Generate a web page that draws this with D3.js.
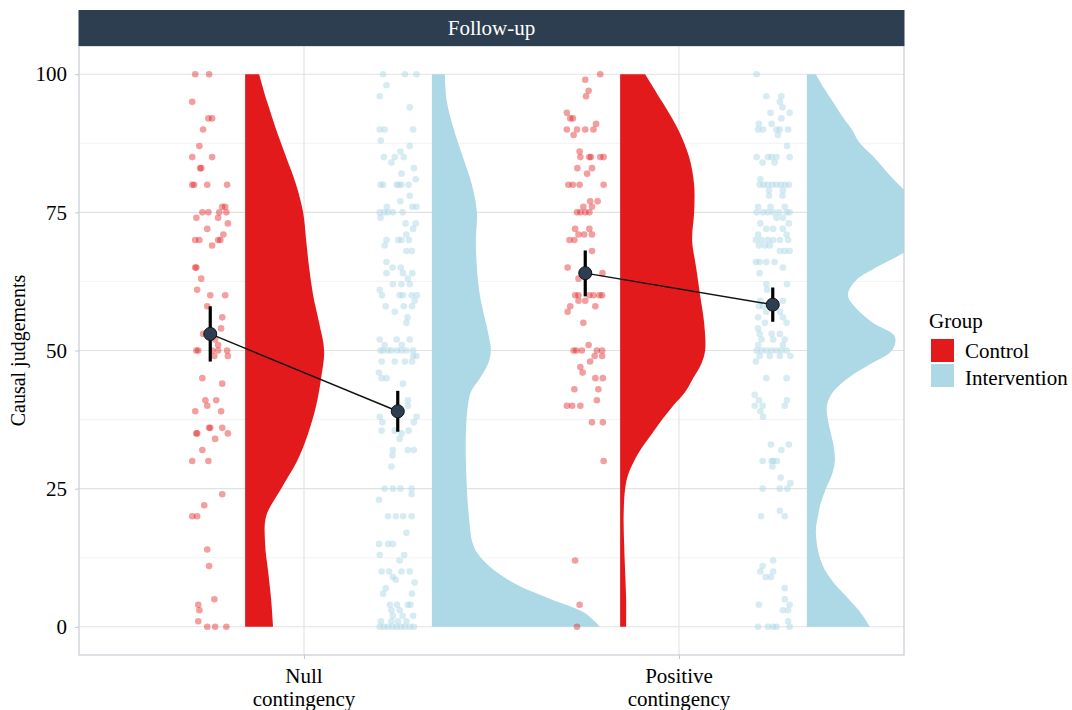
<!DOCTYPE html>
<html>
<head>
<meta charset="utf-8">
<script src="https://cdn.jsdelivr.net/npm/d3@7"></script>
<style>
  body { margin: 0; background: #fff; }
  text { font-family: "Liberation Serif", "Times New Roman", serif; }
</style>
</head>
<body>
<svg id="chart"></svg>
<script>
// ---- data ----
var categories = [["Null", "contingency"], ["Positive", "contingency"]];
var groups = ["Control", "Intervention"];
var yTicks = [0, 25, 50, 75, 100];
var yMinorTicks = [12.5, 37.5, 62.5, 87.5];

// raw judgements: [value, jitter offset (hundredths of a category)]
var nullControl = [[100,-4.0],[100,-0.3],[95,-4.8],[92,-0.5],[92,0.5],[90,-1.9],[87,-2.9],[85,-4.8],[85,0.5],[83,-2.7],[83,-2.4],[80,-4.8],[80,-4.3],[80,-0.8],[80,4.5],[76,3.2],[76,4.0],[75,-2.1],[75,-0.5],[75,2.4],[75,4.3],[74,-3.7],[74,2.1],[73,4.7],[72,-0.8],[71,3.5],[70,-4.0],[70,-2.9],[70,2.1],[70,2.7],[69,0.5],[65,-4.0],[65,-3.7],[63,-2.4],[61,-3.5],[60,0],[60,4.0],[58,-0.8],[56,3.2],[54,2.9],[53,-1.9],[52,1.3],[51,2.1],[50,-3.7],[50,-3.2],[50,0.5],[50,2.1],[50,4.5],[49,1.1],[49,4.7],[45,-2.1],[44,3.2],[41,-1.3],[41,1.6],[40,-0.8],[39,-4.0],[39,2.9],[36,-0.3],[36,0],[36,3.2],[35,-3.7],[35,-3.5],[35,4.7],[34,1.3],[32,-2.1],[30,-4.8],[30,-0.5],[24,3.2],[22,-1.6],[20,-4.8],[20,-3.5],[14,-0.8],[11,-0.3],[5,1.1],[4,-3.2],[3,-2.9],[1,-3.2],[0,-0.8],[0,1.3],[0,4.3]];

var nullIntervention = [[100,-3.9],[100,1.9],[100,5.0],[98,-3.0],[96,-4.8],[94,3.2],[90,-4.8],[90,-3.5],[90,4.1],[88,-4.5],[87,3.2],[86,0.7],[85,-3.7],[85,-0.8],[85,1.6],[84,-1.7],[83,4.3],[82,1.0],[81,4.8],[80,-4.6],[80,-3.9],[80,-0.3],[80,0.3],[80,1.0],[80,2.9],[78,3.2],[77,0.7],[76,3.9],[76,5.0],[76,-2.9],[75,-4.8],[75,-3.5],[75,-2.6],[75,-1.3],[75,1.3],[74,-4.6],[73,2.1],[73,4.8],[72,4.1],[71,2.3],[70,-3.0],[70,0.1],[70,1.0],[70,3.0],[69,-3.5],[68,2.3],[68,3.8],[66,-3.0],[65,-1.4],[65,0.8],[64,-3.0],[64,1.4],[64,3.9],[63,2.7],[62,-1.3],[62,1.0],[62,3.2],[61,-4.8],[60,-4.2],[60,0.5],[60,1.4],[60,3.7],[60,5.1],[59,4.5],[58,-3.2],[58,1.6],[58,3.8],[57,-0.8],[56,2.6],[55,2.3],[52,-4.8],[52,-0.3],[52,3.2],[51,-3.5],[51,1.1],[50,-4.6],[50,-3.9],[50,-2.6],[50,-1.7],[50,-0.2],[50,1.0],[50,2.3],[50,4.1],[49,4.1],[49,5.0],[48,-4.3],[48,-0.8],[48,1.9],[48,3.8],[46,-5.0],[45,-4.3],[45,-3.0],[44,1.4],[41,2.7],[40,2.7],[38,5.0],[37,4.3],[38,-4.8],[37,-4.1],[35.5,-4.3],[35.5,-0.8],[35.5,2.9],[35,1.0],[34,0.5],[32,2.7],[32,4.3],[32,-1.3],[31,-1.4],[29,-1.7],[25,-3.5],[25,-1.3],[25,0.7],[25,3.7],[24,3.7],[23,-5.0],[20,-2.6],[20,-0.5],[20,1.4],[20,3.7],[17,2.3],[15,-5.0],[15,-2.6],[15,-1.3],[13,-4.8],[13,1.7],[12,0.5],[10,-4.3],[10,-2.3],[10,1.0],[10,3.2],[9,-1.3],[8.5,-0.5],[8,4.5],[7,-3.2],[6,-3.9],[6,3.8],[4,-2.1],[4,-0.2],[4,2.7],[4,3.4],[3,-1.7],[3,0.5],[2,-1.3],[2,1.3],[2,4.1],[1,-4.5],[1,-1.7],[1,0.1],[1,2.3],[0,-4.8],[0,-3.7],[0,-2.6],[0,-1.4],[0,-0.3],[0,0.8],[0,1.9],[0,3.2],[0,4.3]];

var positiveControl = [[100,4.0],[99,0],[97,0.9],[96,0.2],[93,-4.9],[92,-4.0],[92,-3.3],[91,2.9],[90,-4.9],[90,-2.2],[90,0],[90,2.2],[89,-3.1],[86,-1.5],[85,-1.3],[85,1.1],[85,1.5],[85,4.0],[85,4.9],[83,-2.1],[83,1.8],[82,0.5],[80,-4.5],[80,-3.3],[80,-1.5],[80,4.9],[77,1.3],[77,3.3],[76,-0.5],[76,1.8],[75,-2.2],[75,-1.3],[75,0],[75,1.1],[72,-2.7],[72,1.1],[71,-1.8],[71,-0.3],[71,1.8],[70,-4.2],[70,-2.9],[68,1.8],[65,-4.7],[64,4.6],[63,-1.8],[60,-2.7],[60,-1.8],[60,1.1],[60,2.2],[60,3.8],[60,4.5],[59,-1.8],[59,0],[58,-4.0],[58,2.7],[57,-4.7],[55,-0.5],[51,0.9],[50,-3.1],[50,-2.4],[50,-0.9],[50,3.1],[50,4.5],[49,2.5],[49,4.5],[48,1.3],[47,-1.3],[46,-0.7],[45,2.7],[45,4.7],[43,-2.9],[43,3.5],[41,3.1],[40,-4.9],[40,-3.5],[40,-1.3],[37,1.8],[37,4.7],[30,4.9],[12,-2.7],[4,-1.5],[0,-2.2]];

var positiveIntervention = [[100,-4.3],[96,-1.7],[96,2.3],[95,1.9],[94,2.6],[93,-0.6],[93,4.5],[92,2.3],[91,-3.7],[91,-0.3],[90,-3.9],[90,-2.6],[90,1.0],[90,1.9],[90,4.1],[89,1.4],[87,3.8],[85,-4.3],[85,-1.3],[85,-0.3],[85,1.0],[85,4.5],[84,-2.7],[84,0.5],[81,-3.3],[80,-3.5],[80,-2.4],[80,-1.3],[80,-0.1],[80,1.0],[80,2.1],[80,3.2],[80,4.3],[79,-1.0],[79,2.7],[78,-1.0],[78,2.6],[76,-3.9],[76,-0.6],[76,3.2],[75,-4.3],[75,-2.6],[75,-1.3],[75,0.1],[75,1.7],[75,3.7],[75,4.5],[74,1.0],[74,2.7],[73,-3.3],[73,4.3],[72,-1.7],[72,0.1],[72,2.7],[71,-3.9],[71,3.7],[70,-4.5],[70,-3.0],[70,-1.3],[70,0.1],[70,1.9],[70,4.1],[69,-3.7],[69,-2.1],[69,-0.8],[68,1.9],[68,3.2],[68,4.5],[66,-4.5],[66,-3.5],[66,-1.7],[66,0.5],[65,2.7],[64,-3.5],[62,-1.7],[62,3.8],[61,-1.5],[59,-3.3],[59,2.7],[58,-3.7],[58,-2.6],[57,-1.7],[57,1.9],[56,2.7],[56,-3.9],[55,-2.1],[55,3.7],[54,-3.9],[53,-3.5],[53,-0.3],[53,1.9],[52,-3.0],[52,0.1],[52,3.2],[51,-3.9],[51,2.7],[50,-4.3],[50,-3.0],[50,-1.7],[50,-0.3],[50,1.0],[50,2.3],[50,3.7],[49,-3.5],[49,-0.8],[49,1.9],[49,4.7],[48,-4.5],[45,-1.7],[45,3.7],[42,-4.8],[41,-3.7],[41,3.8],[40,-4.8],[40,-2.7],[40,3.2],[39,-3.3],[38,-2.6],[33,-0.5],[33,4.3],[32,2.3],[30,-2.7],[30,-0.3],[30,0.1],[30,1.1],[29,-0.1],[27,2.1],[26,4.7],[25,-2.7],[25,1.9],[25,3.9],[21,1.9],[20,-3.1],[20,3.2],[12,0.1],[11,-2.7],[10,-3.3],[10,0.1],[9,-1.9],[9,-0.5],[7,3.2],[5,3.2],[4,-3.7],[4,4.5],[3,2.7],[3,4.1],[1,4.1],[0,-3.9],[0,-1.3],[0,0.1],[0,1.0],[0,4.5]];

// half-violin outlines: [value, relative density]
var nullControlDensity = [[0,28],[5,26],[10,23],[15,20],[20,21],[25,36],[30,52],[35,63],[40,71],[45,76],[50,79],[55,74],[60,68],[65,64],[70,61],[75,58],[80,51],[85,41],[90,31],[95,22],[100,14]];
var nullInterventionDensity = [[0,168],[2.5,153],[5,119],[7.5,86],[10,64],[12.5,49],[15,41],[20,37],[25,35],[30,34],[35,34],[40,36],[42.5,39],[45,48],[47.5,56],[50,59],[52.5,57],[55,54],[60,48],[65,45],[70,44],[75,45],[80,40],[85,31],[90,22],[95,15],[100,13]];
var positiveControlDensity = [[0,6],[5,6],[10,5],[15,4],[20,3.5],[25,5],[27.5,8],[30,14],[32.5,22],[35,32],[37.5,42],[40,53],[42.5,65],[45,73],[47.5,81],[50,85],[55,84],[60,80],[65,76],[70,72],[75,74],[80,74],[85,69],[90,58],[95,42],[100,25]];
var positiveInterventionDensity = [[0,63],[2.5,54],[5,42],[7.5,29],[10,19],[12.5,13],[15,10],[17.5,9],[20,11],[22.5,14],[25,19],[27.5,25],[30,28],[32.5,27],[35,24],[37.5,21],[40,20],[42.5,26],[45,41],[47.5,63],[50,85],[52.5,88],[55,66],[57.5,50],[60,41],[62.5,48],[65,69],[67.5,95],[70,115],[72.5,124],[75,120],[77.5,106],[80,92],[82.5,79],[85,67],[87.5,53],[90,45],[92.5,35],[95,26],[97.5,17],[100,9]];

// mean and 95% CI, per category: [control, intervention]
var meanValues = [[53.0, 39.0], [64.0, 58.3]];
var ciLower = [[48.0, 35.3], [59.8, 55.2]];
var ciUpper = [[58.0, 42.7], [68.1, 61.4]];

// ---- drawing ----
var width = 1072, height = 710;
var panel = {left: 79, right: 904, top: 46, bottom: 655};
var strip = {top: 10, bottom: 46};
var colors = {"Control": "#e31a1c", "Intervention": "#add8e6"};
var navy = "#2c3e50";

// group offsets inside a category (category units)
var pointOffset = {"Control": -0.25, "Intervention": 0.25};
var violinOffset = {"Control": -0.157, "Intervention": 0.341};

var svg = d3.select("#chart").attr("width", width).attr("height", height);

var xScale = d3.scaleLinear().domain([0.4, 2.6]).range([panel.left, panel.right]);
var yScale = d3.scaleLinear().domain([-5.1, 105.1]).range([panel.bottom, panel.top]);
var densityScale = d3.scaleLinear().domain([0, 100]).range([0, 100 / 375]);

svg.append("defs").append("clipPath").attr("id", "panel-clip")
  .append("rect")
  .attr("x", panel.left).attr("y", panel.top)
  .attr("width", panel.right - panel.left).attr("height", panel.bottom - panel.top);

// grid
var grid = svg.append("g");
grid.selectAll(".minor").data(yMinorTicks).enter().append("line")
  .attr("x1", panel.left).attr("x2", panel.right)
  .attr("y1", function(d){ return yScale(d); }).attr("y2", function(d){ return yScale(d); })
  .attr("stroke", "#f0f0f0").attr("stroke-width", 0.8);
grid.selectAll(".major").data(yTicks).enter().append("line")
  .attr("x1", panel.left).attr("x2", panel.right)
  .attr("y1", function(d){ return yScale(d); }).attr("y2", function(d){ return yScale(d); })
  .attr("stroke", "#e2e2e2").attr("stroke-width", 1.1);
grid.selectAll(".vmajor").data([1, 2]).enter().append("line")
  .attr("y1", panel.top).attr("y2", panel.bottom)
  .attr("x1", function(d){ return xScale(d); }).attr("x2", function(d){ return xScale(d); })
  .attr("stroke", "#e2e2e2").attr("stroke-width", 1.1);

var plot = svg.append("g").attr("clip-path", "url(#panel-clip)");

// half violins
var violins = [
  {cat: 1, group: "Control", dens: nullControlDensity},
  {cat: 1, group: "Intervention", dens: nullInterventionDensity},
  {cat: 2, group: "Control", dens: positiveControlDensity},
  {cat: 2, group: "Intervention", dens: positiveInterventionDensity}
];
violins.forEach(function(v){
  var base = v.cat + violinOffset[v.group];
  var area = d3.area()
    .curve(d3.curveCatmullRom.alpha(0.5))
    .y(function(d){ return yScale(d[0]); })
    .x0(xScale(base))
    .x1(function(d){ return xScale(base + densityScale(d[1])); });
  plot.append("path")
    .datum(v.dens)
    .attr("d", area)
    .attr("fill", colors[v.group]);
});

// jittered raw points
var pointSets = [
  {cat: 1, group: "Control", pts: nullControl},
  {cat: 1, group: "Intervention", pts: nullIntervention},
  {cat: 2, group: "Control", pts: positiveControl},
  {cat: 2, group: "Intervention", pts: positiveIntervention}
];
pointSets.forEach(function(s){
  var center = s.cat + pointOffset[s.group];
  plot.append("g").selectAll("circle").data(s.pts).enter().append("circle")
    .attr("cx", function(d){ return xScale(center + d[1] / 100); })
    .attr("cy", function(d){ return yScale(d[0]); })
    .attr("r", 3.3)
    .attr("fill", colors[s.group])
    .attr("fill-opacity", s.group == "Control" ? 0.42 : 0.5);
});

// mean lines, CI bars, mean points
[1, 2].forEach(function(cat, i){
  plot.append("line")
    .attr("x1", xScale(cat + pointOffset.Control)).attr("y1", yScale(meanValues[i][0]))
    .attr("x2", xScale(cat + pointOffset.Intervention)).attr("y2", yScale(meanValues[i][1]))
    .attr("stroke", "#111").attr("stroke-width", 1.5);
  groups.forEach(function(g, j){
    var cx = xScale(cat + pointOffset[g]);
    plot.append("line")
      .attr("x1", cx).attr("x2", cx)
      .attr("y1", yScale(ciLower[i][j])).attr("y2", yScale(ciUpper[i][j]))
      .attr("stroke", "#000").attr("stroke-width", 3.2);
    plot.append("circle")
      .attr("cx", cx).attr("cy", yScale(meanValues[i][j]))
      .attr("r", 6.5)
      .attr("fill", navy).attr("stroke", "#111").attr("stroke-width", 1);
  });
});

// panel border
svg.append("rect")
  .attr("x", panel.left).attr("y", panel.top)
  .attr("width", panel.right - panel.left).attr("height", panel.bottom - panel.top)
  .attr("fill", "none").attr("stroke", "#c6cbd3").attr("stroke-width", 1.2);

// facet strip
svg.append("rect")
  .attr("x", panel.left - 0.5).attr("y", strip.top)
  .attr("width", panel.right - panel.left + 1).attr("height", strip.bottom - strip.top)
  .attr("fill", navy);
svg.append("text")
  .attr("x", (panel.left + panel.right) / 2).attr("y", 35)
  .attr("text-anchor", "middle").attr("fill", "#fff")
  .style("font-size", "21px")
  .text("Follow-up");

// y axis
var yAxis = d3.axisLeft(yScale).tickValues(yTicks).tickSize(4).tickPadding(8);
var gy = svg.append("g").attr("transform", "translate(" + panel.left + ",0)").call(yAxis);
gy.select(".domain").remove();
gy.selectAll(".tick line").attr("stroke", "#c6cbd3");
gy.selectAll(".tick text").style("font-size", "21px").attr("fill", "#000")
  .style("font-family", "'Liberation Serif', 'Times New Roman', serif");

// x axis
var xAxis = d3.axisBottom(xScale).tickValues([1, 2]).tickSize(4).tickFormat("");
var gx = svg.append("g").attr("transform", "translate(0," + panel.bottom + ")").call(xAxis);
gx.select(".domain").remove();
gx.selectAll(".tick line").attr("stroke", "#c6cbd3");
categories.forEach(function(lines, i){
  var t = svg.append("text")
    .attr("text-anchor", "middle")
    .style("font-size", "21px");
  lines.forEach(function(l, k){
    t.append("tspan").attr("x", xScale(i + 1)).attr("y", 683 + k * 23).text(l);
  });
});

// y title
svg.append("text")
  .attr("transform", "translate(25," + ((panel.top + panel.bottom) / 2) + ") rotate(-90)")
  .attr("text-anchor", "middle")
  .style("font-size", "20px")
  .text("Causal judgements");

// legend
var legend = svg.append("g").attr("transform", "translate(929,0)");
legend.append("text").attr("x", 0).attr("y", 328).style("font-size", "21px").text("Group");
groups.forEach(function(g, i){
  legend.append("rect")
    .attr("x", 2).attr("y", 339 + i * 25)
    .attr("width", 23).attr("height", 23)
    .attr("fill", colors[g]);
  legend.append("text")
    .attr("x", 36).attr("y", 358 + i * 27)
    .style("font-size", "21px")
    .text(g);
});
</script>
</body>
</html>
